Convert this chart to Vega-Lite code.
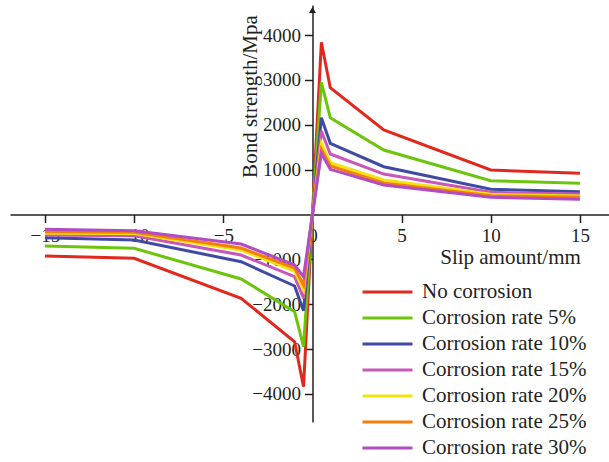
{
  "$schema": "https://vega.github.io/schema/vega-lite/v6.json",
  "width": 599,
  "height": 417,
  "autosize": "none",
  "padding": {"left": 10, "top": 5, "right": 0, "bottom": 40},
  "background": "white",
  "config": {
    "view": {"stroke": null},
    "font": "Liberation Serif",
    "axis": {"grid": false, "zindex": 0, "domainColor": "#231f20", "tickColor": "#231f20", "labelColor": "#231f20", "titleColor": "#231f20", "domainWidth": 1.5, "tickWidth": 1.5, "tickSize": 8, "labelFontSize": 19, "titleFontSize": 21, "titleFontWeight": "normal", "labelFlush": false, "labelOverlap": false}
  },
  "datasets": {
    "curves": [
      {"series": "No corrosion", "slip": -15, "strength": -925},
      {"series": "No corrosion", "slip": -10, "strength": -976},
      {"series": "No corrosion", "slip": -4, "strength": -1867},
      {"series": "No corrosion", "slip": -1, "strength": -2835},
      {"series": "No corrosion", "slip": -0.5, "strength": -3838},
      {"series": "No corrosion", "slip": 0, "strength": 0},
      {"series": "No corrosion", "slip": 0.5, "strength": 3837},
      {"series": "No corrosion", "slip": 1, "strength": 2826},
      {"series": "No corrosion", "slip": 4, "strength": 1883},
      {"series": "No corrosion", "slip": 10, "strength": 992},
      {"series": "No corrosion", "slip": 15, "strength": 918},
      {"series": "Corrosion rate 5%", "slip": -15, "strength": -702},
      {"series": "Corrosion rate 5%", "slip": -10, "strength": -753},
      {"series": "Corrosion rate 5%", "slip": -4, "strength": -1437},
      {"series": "Corrosion rate 5%", "slip": -1, "strength": -2166},
      {"series": "Corrosion rate 5%", "slip": -0.5, "strength": -2946},
      {"series": "Corrosion rate 5%", "slip": 0, "strength": 0},
      {"series": "Corrosion rate 5%", "slip": 0.5, "strength": 2946},
      {"series": "Corrosion rate 5%", "slip": 1, "strength": 2157},
      {"series": "Corrosion rate 5%", "slip": 4, "strength": 1437},
      {"series": "Corrosion rate 5%", "slip": 10, "strength": 753},
      {"series": "Corrosion rate 5%", "slip": 15, "strength": 695},
      {"series": "Corrosion rate 10%", "slip": -15, "strength": -517},
      {"series": "Corrosion rate 10%", "slip": -10, "strength": -568},
      {"series": "Corrosion rate 10%", "slip": -4, "strength": -1052},
      {"series": "Corrosion rate 10%", "slip": -1, "strength": -1593},
      {"series": "Corrosion rate 10%", "slip": -0.5, "strength": -2144},
      {"series": "Corrosion rate 10%", "slip": 0, "strength": 0},
      {"series": "Corrosion rate 10%", "slip": 0.5, "strength": 2157},
      {"series": "Corrosion rate 10%", "slip": 1, "strength": 1587},
      {"series": "Corrosion rate 10%", "slip": 4, "strength": 1065},
      {"series": "Corrosion rate 10%", "slip": 10, "strength": 561},
      {"series": "Corrosion rate 10%", "slip": 15, "strength": 508},
      {"series": "Corrosion rate 15%", "slip": -15, "strength": -457},
      {"series": "Corrosion rate 15%", "slip": -10, "strength": -472},
      {"series": "Corrosion rate 15%", "slip": -4, "strength": -903},
      {"series": "Corrosion rate 15%", "slip": -1, "strength": -1386},
      {"series": "Corrosion rate 15%", "slip": -0.5, "strength": -1867},
      {"series": "Corrosion rate 15%", "slip": 0, "strength": 0},
      {"series": "Corrosion rate 15%", "slip": 0.5, "strength": 1861},
      {"series": "Corrosion rate 15%", "slip": 1, "strength": 1348},
      {"series": "Corrosion rate 15%", "slip": 4, "strength": 902},
      {"series": "Corrosion rate 15%", "slip": 10, "strength": 494},
      {"series": "Corrosion rate 15%", "slip": 15, "strength": 457},
      {"series": "Corrosion rate 20%", "slip": -15, "strength": -419},
      {"series": "Corrosion rate 20%", "slip": -10, "strength": -425},
      {"series": "Corrosion rate 20%", "slip": -4, "strength": -791},
      {"series": "Corrosion rate 20%", "slip": -1, "strength": -1259},
      {"series": "Corrosion rate 20%", "slip": -0.5, "strength": -1682},
      {"series": "Corrosion rate 20%", "slip": 0, "strength": 0},
      {"series": "Corrosion rate 20%", "slip": 0.5, "strength": 1587},
      {"series": "Corrosion rate 20%", "slip": 1, "strength": 1154},
      {"series": "Corrosion rate 20%", "slip": 4, "strength": 769},
      {"series": "Corrosion rate 20%", "slip": 10, "strength": 450},
      {"series": "Corrosion rate 20%", "slip": 15, "strength": 412},
      {"series": "Corrosion rate 25%", "slip": -15, "strength": -383},
      {"series": "Corrosion rate 25%", "slip": -10, "strength": -395},
      {"series": "Corrosion rate 25%", "slip": -4, "strength": -746},
      {"series": "Corrosion rate 25%", "slip": -1, "strength": -1192},
      {"series": "Corrosion rate 25%", "slip": -0.5, "strength": -1571},
      {"series": "Corrosion rate 25%", "slip": 0, "strength": 0},
      {"series": "Corrosion rate 25%", "slip": 0.5, "strength": 1453},
      {"series": "Corrosion rate 25%", "slip": 1, "strength": 1081},
      {"series": "Corrosion rate 25%", "slip": 4, "strength": 702},
      {"series": "Corrosion rate 25%", "slip": 10, "strength": 420},
      {"series": "Corrosion rate 25%", "slip": 15, "strength": 383},
      {"series": "Corrosion rate 30%", "slip": -15, "strength": -330},
      {"series": "Corrosion rate 30%", "slip": -10, "strength": -361},
      {"series": "Corrosion rate 30%", "slip": -4, "strength": -657},
      {"series": "Corrosion rate 30%", "slip": -1, "strength": -1125},
      {"series": "Corrosion rate 30%", "slip": -0.5, "strength": -1386},
      {"series": "Corrosion rate 30%", "slip": 0, "strength": 0},
      {"series": "Corrosion rate 30%", "slip": 0.5, "strength": 1364},
      {"series": "Corrosion rate 30%", "slip": 1, "strength": 1007},
      {"series": "Corrosion rate 30%", "slip": 4, "strength": 657},
      {"series": "Corrosion rate 30%", "slip": 10, "strength": 383},
      {"series": "Corrosion rate 30%", "slip": 15, "strength": 339}
    ],
    "arrow": [{"slip": 0, "strength": 4557}]
  },
  "layer": [
    {
      "data": {"name": "curves"},
      "mark": {"type": "line", "strokeWidth": 3, "strokeJoin": "miter"},
      "encoding": {
        "x": {"field": "slip", "type": "quantitative", "scale": {"domain": [-16.96, 16.63], "nice": false, "zero": false},
          "axis": {"values": [-15, -10, -5, 0, 5, 10, 15], "format": "d", "offset": -207.5, "labelBaseline": "alphabetic", "labelPadding": 19, "title": "Slip amount/mm", "titleX": 500, "titleY": 48.5, "titleAlign": "center", "titleBaseline": "alphabetic"}},
        "y": {"field": "strength", "type": "quantitative", "scale": {"domain": [-4624, 4669], "nice": false, "zero": false},
          "axis": {"values": [-4000, -3000, -2000, -1000, 1000, 2000, 3000, 4000], "format": "d", "offset": -302.5, "labelPadding": 4, "labelAlign": "right", "labelBaseline": "middle", "title": "Bond strength/Mpa", "titleAngle": -90, "titleX": -62, "titleY": 91, "titleAlign": "center", "titleBaseline": "middle"}},
        "color": {"field": "series", "type": "nominal",
          "scale": {"domain": ["No corrosion", "Corrosion rate 5%", "Corrosion rate 10%", "Corrosion rate 15%", "Corrosion rate 20%", "Corrosion rate 25%", "Corrosion rate 30%"],
            "range": ["#e0281e", "#6cc50c", "#3f4ba3", "#c957b7", "#f2e20e", "#f47e0b", "#b24cc4"]},
          "legend": {"orient": "none", "legendX": 363.5, "legendY": 273, "title": null, "symbolType": "M-2,0H2", "symbolSize": 625, "symbolStrokeWidth": 3, "symbolStrokeColor": null, "labelFontSize": 21, "labelColor": "#231f20", "labelOffset": 20.5, "rowPadding": 2, "labelLimit": 300}}
      }
    },
    {
      "data": {"name": "arrow"},
      "mark": {"type": "point", "shape": "triangle-up", "filled": true, "color": "#231f20", "size": 50, "opacity": 1},
      "encoding": {
        "x": {"field": "slip", "type": "quantitative"},
        "y": {"field": "strength", "type": "quantitative"}
      }
    }
  ]
}
